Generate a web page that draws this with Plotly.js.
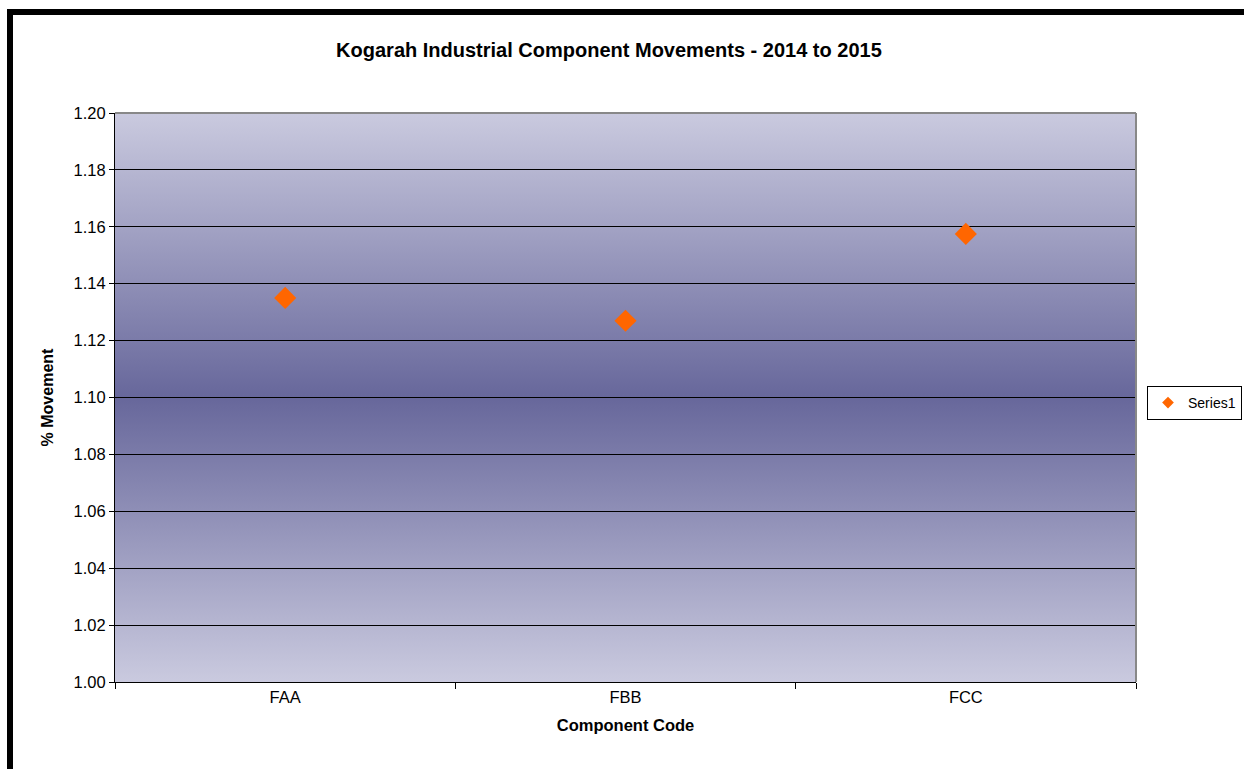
<!DOCTYPE html>
<html>
<head>
<meta charset="utf-8">
<script src="https://cdn.plot.ly/plotly-3.0.1.min.js"></script>
<style>html,body{margin:0;padding:0;background:#fff;}#chart{width:1244px;height:769px;}</style>
</head>
<body>
<div id="chart"></div>
<script>
var categories = ["FAA", "FBB", "FCC"];
var movement = [1.135, 1.127, 1.1575];
var seriesName = "Series1";
var chartTitle = "Kogarah Industrial Component Movements - 2014 to 2015";
var xTitle = "Component Code";
var yTitle = "% Movement";

var grad = '<svg xmlns="http://www.w3.org/2000/svg" width="100" height="100" preserveAspectRatio="none">' +
  '<defs><linearGradient id="g" x1="0" y1="0" x2="0" y2="1">' +
  '<stop offset="0" stop-color="#cacadf"/>' +
  '<stop offset="0.5" stop-color="#67679b"/>' +
  '<stop offset="1" stop-color="#cacadf"/>' +
  '</linearGradient></defs><rect width="100" height="100" fill="url(#g)"/></svg>';
var gradUri = 'data:image/svg+xml;base64,' + btoa(grad);

var trace = {
  type: 'scatter', mode: 'markers',
  x: categories, y: movement, name: seriesName,
  showlegend: false,
  marker: {symbol: 'diamond', size: 17, color: '#ff6600'}
};
var legendTrace = {
  type: 'scatter', mode: 'markers',
  x: [null], y: [null], name: seriesName,
  showlegend: true,
  marker: {symbol: 'diamond', size: 9, color: '#ff6600'}
};

var L = 115, R = 1136, T = 113, B = 682;
function px(x){return (x - L)/(R - L);}
function py(y){return (B - y)/(B - T);}

var layout = {
  width: 1244, height: 769,
  margin: {l: 115, r: 108, t: 113, b: 87, autoexpand: false},
  paper_bgcolor: '#ffffff',
  plot_bgcolor: 'rgba(0,0,0,0)',
  font: {family: 'Liberation Sans, Arial, sans-serif', size: 16, color: '#000'},
  title: {text: '<b>' + chartTitle + '</b>', x: 0.4895, xanchor: 'center', y: 0.935, yanchor: 'middle', font: {size: 20}},
  showlegend: true,
  legend: {x: px(1147), xanchor: 'left', y: py(403), yanchor: 'middle', bordercolor: '#000', borderwidth: 1, bgcolor: '#fff', font: {size: 14}, itemwidth: 30, tracegroupgap: 0},
  xaxis: {
    type: 'category', range: [-0.5, 2.5],
    showgrid: false, showline: true, linecolor: '#000', linewidth: 1,
    ticks: 'outside', ticklen: 6, tickcolor: '#000', tickson: 'boundaries',
    tickfont: {size: 16.5},
    title: {text: '<b>' + xTitle + '</b>', font: {size: 16.5}, standoff: 14},
    fixedrange: true, zeroline: false
  },
  yaxis: {
    range: [1.0, 1.2], dtick: 0.02, tick0: 1.0, tickformat: '.2f',
    showgrid: true, gridcolor: '#000', gridwidth: 1,
    showline: true, linecolor: '#000', linewidth: 1,
    ticks: 'outside', ticklen: 5, tickcolor: '#000',
    tickfont: {size: 16.5},
    title: {text: '<b>' + yTitle + '</b>', font: {size: 16}, standoff: 15},
    zeroline: false, fixedrange: true
  },
  images: [{source: gradUri, xref: 'paper', yref: 'paper', x: 0, y: 1, sizex: 1, sizey: 1, sizing: 'stretch', xanchor: 'left', yanchor: 'top', layer: 'below'}],
  shapes: [
    {type: 'line', xref: 'paper', yref: 'paper', x0: 0, x1: 1, y0: 1, y1: 1, line: {color: '#888', width: 2}},
    {type: 'line', xref: 'paper', yref: 'paper', x0: 1, x1: 1, y0: 0, y1: 1, line: {color: '#888', width: 2}},
    {type: 'rect', xref: 'paper', yref: 'paper', x0: px(7), x1: px(13), y0: py(769), y1: py(9), fillcolor: '#000', line: {width: 0}},
    {type: 'rect', xref: 'paper', yref: 'paper', x0: px(7), x1: px(1244), y0: py(15), y1: py(9), fillcolor: '#000', line: {width: 0}}
  ]
};

Plotly.newPlot('chart', [trace, legendTrace], layout, {displayModeBar: false, staticPlot: true});
</script>
</body>
</html>
